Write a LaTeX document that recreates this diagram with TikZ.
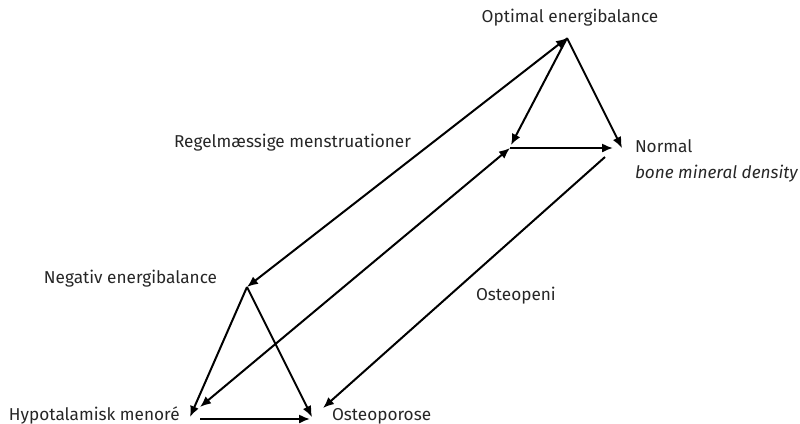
\documentclass[tikz,border=0pt]{standalone}
\usepackage{fontspec}
\setmainfont{Fira Sans}
\usetikzlibrary{shapes, arrows.meta}
\usetikzlibrary{positioning}

\begin{document}
\begin{tikzpicture}[x=0.5pt, y=-0.5pt, >={Latex[length=5.5pt,width=4.6pt]}, line width=1pt,
  lbl/.style={inner sep=0pt, text=black!85, font=\fontsize{8.6}{10}\selectfont}]
\useasboundingbox (0,0) rectangle (800,424);

% labels
\node[lbl, anchor=base] (opt) at (570,22) {Optimal energibalance};
\node[lbl, anchor=base east] (reg) at (412,147) {Regelmæssige menstruationer};
\node[lbl, anchor=base west] (nor) at (634,152) {Normal};
\node[lbl, anchor=base west] (bmd) at (634,178) {\itshape bone mineral density};
\node[lbl, anchor=base west] (neg) at (43,283) {Negativ energibalance};
\node[lbl, anchor=base west] (pen) at (475,300) {Osteopeni};
\node[lbl, anchor=base west] (hyp) at (8,420) {Hypotalamisk menoré};
\node[lbl, anchor=base west] (por) at (331,420) {Osteoporose};

% top triangle
\coordinate (top) at (567,38);
\coordinate (tl) at (511,145);
\coordinate (tr) at (622,148);
\coordinate (nl) at (510,148);
\coordinate (nr) at (613,148);
\coordinate (np) at (605,157);

% bottom triangle
\coordinate (bot) at (247,287);
\coordinate (bl) at (190,417);
\coordinate (br) at (312,417);
\coordinate (hl) at (200,419);
\coordinate (hr) at (310,419);
\coordinate (hm) at (200,407);
\coordinate (pm) at (323,408);

\draw[->] (top) -- (tl);
\draw[->] (top) -- (tr);
\draw[->] (nl) -- (nr);

\draw[->] (bot) -- (bl);
\draw[->] (bot) -- (br);
\draw[->] (hl) -- (hr);

% long links
\draw[<->] (bot) -- (top);
\draw[<->] (hm) -- (nl);
\draw[->] (np) -- (pm);

\end{tikzpicture}
\end{document}
